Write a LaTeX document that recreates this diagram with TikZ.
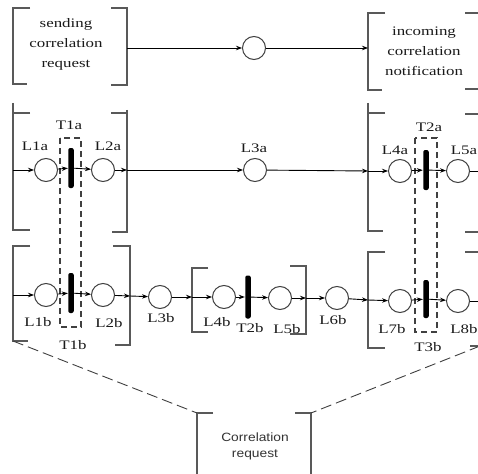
\documentclass[tikz,border=0pt]{standalone}
\usepackage{fontspec}
\setmainfont{Liberation Serif}[FakeStretch=1.3]
\newfontfamily\boxfont{Liberation Sans}[FakeStretch=1.15]
\usetikzlibrary{arrows.meta}

\begin{document}
\begin{tikzpicture}[x=1pt,y=-1pt,>={Stealth[length=6pt,width=4.5pt]},line width=0.9pt,
	place/.style={circle,draw=black!75,line width=1pt,minimum size=23pt,inner sep=0pt},
	bar/.style={fill=black,rounded corners=2pt,minimum width=5.5pt,minimum height=40pt,inner sep=0pt},
	tag/.style={font=\fontsize{13}{20}\selectfont,inner sep=0pt,text=black!90},
	bracket/.style={draw=black!65,line width=1.2pt},
	group/.style={draw=black!75,line width=1.2pt,dash pattern=on 6pt off 4pt},
	link/.style={draw=black!75,line width=0.9pt,dash pattern=on 11pt off 5pt}]
	
	\useasboundingbox (0,0) rectangle (478,473);
	
	% top boxes
	\draw[bracket] (30,8) -- (13,8) -- (13,84) -- (27,84);
	\draw[bracket] (111,8) -- (127,8) -- (127,85) -- (111,85);
	\draw[bracket] (385,13) -- (368,13) -- (368,90) -- (382,90);
	\draw[bracket] (465,13) -- (480,13) -- (480,89) -- (465,89);
	\node[tag,align=center] at (66,44) (send) {sending\\correlation\\request};
	\node[tag,align=center] at (424,51) (notify) {incoming\\correlation\\notification};
	
	% box around row a
	\draw[bracket] (30,113) -- (13,113);
	\draw[bracket] (13,103) -- (13,230) -- (30,230);
	\draw[bracket] (111,113) -- (127,113);
	\draw[bracket] (127,110) -- (127,232) -- (112,232);
	\draw[bracket] (385,113) -- (368,113);
	\draw[bracket] (368,103) -- (368,231) -- (383,231);
	\draw[bracket] (465,114) -- (480,114) -- (480,232) -- (465,232);
	
	% boxes around row b
	\draw[bracket] (30,246) -- (13,246) -- (13,341) -- (28,341);
	\draw[bracket] (113,246) -- (130,246) -- (130,345) -- (115,345);
	\draw[bracket] (208,268) -- (192,268) -- (192,332) -- (208,332);
	\draw[bracket] (290,266) -- (306,266) -- (306,334) -- (290,334);
	\draw[bracket] (385,252) -- (368,252) -- (368,348) -- (385,348);
	\draw[bracket] (465,252) -- (480,252) -- (480,346) -- (470,346);
	
	% bottom box
	\draw[bracket] (213,413) -- (197,413) -- (197,480);
	\draw[bracket] (295,413) -- (311,413) -- (311,480);
	\node[align=center,inner sep=0pt,text=black!80,font=\boxfont\fontsize{12}{16}\selectfont] at (255,446) (corr) {Correlation\\request};
	
	% transition groups
	\draw[group] (60,138) rectangle (81,327);
	\draw[group] (415,138) rectangle (437,332);
	
	% places and transitions
	\node[place] at (254,48) (C) {};
	
	\node[place] at (46,170) (L1a) {};
	\node[bar] at (71,168) (T1a) {};
	\node[place] at (103,170) (L2a) {};
	\node[place] at (255,170) (L3a) {};
	\node[place] at (400,171) (L4a) {};
	\node[bar] at (426,170) (T2a) {};
	\node[place] at (458,171) (L5a) {};
	
	\node[place] at (46,295) (L1b) {};
	\node[bar] at (71,293) (T1b) {};
	\node[place] at (103,295) (L2b) {};
	\node[place] at (160,297) (L3b) {};
	\node[place] at (224,297) (L4b) {};
	\node[bar,minimum height=43pt] at (248,297) (T2b) {};
	\node[place] at (280,298) (L5b) {};
	\node[place] at (337,298) (L6b) {};
	\node[place] at (400,301) (L7b) {};
	\node[bar,minimum height=38pt] at (426,299) (T3b) {};
	\node[place] at (458,301) (L8b) {};
	
	% names
	\node[tag] at (69,125) (T1a-tag) {T1a};
	\node[tag] at (35,146) (L1a-tag) {L1a};
	\node[tag] at (108,146) (L2a-tag) {L2a};
	\node[tag] at (254,148) (L3a-tag) {L3a};
	\node[tag] at (395,150) (L4a-tag) {L4a};
	\node[tag] at (429,127) (T2a-tag) {T2a};
	\node[tag] at (464,150) (L5a-tag) {L5a};
	
	\node[tag] at (38,322) (L1b-tag) {L1b};
	\node[tag] at (73,345) (T1b-tag) {T1b};
	\node[tag] at (109,323) (L2b-tag) {L2b};
	\node[tag] at (161,318) (L3b-tag) {L3b};
	\node[tag] at (217,322) (L4b-tag) {L4b};
	\node[tag] at (250,328) (T2b-tag) {T2b};
	\node[tag] at (287,329) (L5b-tag) {L5b};
	\node[tag] at (333,320) (L6b-tag) {L6b};
	\node[tag] at (392,329) (L7b-tag) {L7b};
	\node[tag] at (428,347) (T3b-tag) {T3b};
	\node[tag] at (464,329) (L8b-tag) {L8b};
	
	% where the flow crosses a bracket
	\coordinate (s1) at (127,48);
	\coordinate (s2) at (368,48);
	\coordinate (a0) at (13,170);
	\coordinate (a1) at (127,170);
	\coordinate (a2) at (368,171);
	\coordinate (a3) at (490,171);
	\coordinate (b0) at (13,295);
	\coordinate (b1) at (130,296);
	\coordinate (b2) at (192,297);
	\coordinate (b3) at (306,298);
	\coordinate (b4) at (368,300);
	\coordinate (b5) at (490,301);
	\coordinate (bl) at (13,341);
	\coordinate (br) at (480,346);
	\coordinate (cl) at (197,413);
	\coordinate (cr) at (311,413);
	
	\path[->]
	(s1) edge (C)
	(C) edge (s2)
	(a0) edge (L1a)
	(L1a) edge (T1a)
	(T1a) edge (L2a)
	(L2a) edge (a1)
	(a1) edge (L3a)
	(L3a) edge (a2)
	(a2) edge (L4a)
	(L4a) edge (T2a)
	(T2a) edge (L5a)
	(L5a) edge (a3)
	(b0) edge (L1b)
	(L1b) edge (T1b)
	(T1b) edge (L2b)
	(L2b) edge (b1)
	(b1) edge (L3b)
	(L3b) edge (b2)
	(b2) edge (L4b)
	(L4b) edge (T2b)
	(T2b) edge (L5b)
	(L5b) edge (b3)
	(b3) edge (L6b)
	(L6b) edge (b4)
	(b4) edge (L7b)
	(L7b) edge (T3b)
	(T3b) edge (L8b)
	(L8b) edge (b5)
	;
	
	\draw[link] (bl) -- (cl);
	\draw[link] (br) -- (cr);
	
\end{tikzpicture}
\end{document}
